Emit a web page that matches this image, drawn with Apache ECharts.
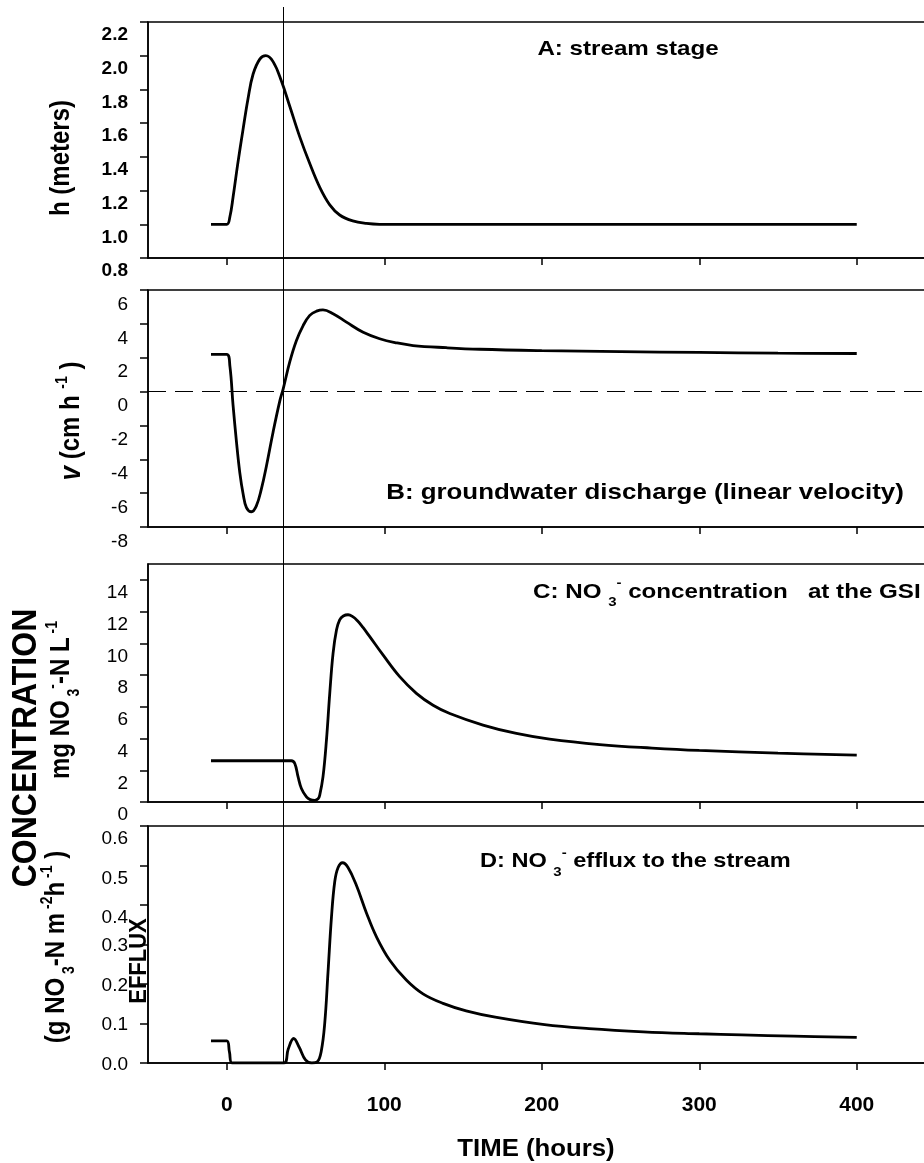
<!DOCTYPE html>
<html><head><meta charset="utf-8">
<script src="https://cdn.jsdelivr.net/npm/echarts@6/dist/echarts.min.js"></script>
<style>html,body{margin:0;padding:0;background:#fff}#c{width:924px;height:1163px}</style>
</head><body><div id="c"></div>
<script>
// ---------------- data ----------------
const markerHour = 36;
const xTickValues = [0, 100, 200, 300, 400];

const stageTicks = [0.8, 1.0, 1.2, 1.4, 1.6, 1.8, 2.0, 2.2];
const velTicks = [-8, -6, -4, -2, 0, 2, 4, 6];
const concTicks = [0, 2, 4, 6, 8, 10, 12, 14];
const effluxTicks = [0, 0.1, 0.2, 0.3, 0.4, 0.5, 0.6];
const effluxLowLabels = [0, 0.1, 0.2, 0.3];
const effluxHighLabels = [0.4, 0.5, 0.6];

const hoursA = [-10, 0, 2, 4, 7, 10.3, 13.5, 16.7, 21, 24.8, 29.4, 34.7, 40, 46.3, 52.7, 59, 65.4, 71.7, 80, 88.7, 97, 150, 250, 400];
const stage  = [1.0, 1.0, 1.045, 1.16, 1.36, 1.56, 1.745, 1.89, 1.98, 2.0, 1.965, 1.85, 1.70, 1.52, 1.36, 1.22, 1.115, 1.055, 1.02, 1.005, 1.0, 1.0, 1.0, 1.0];

const hoursB = [-10, 0, 2, 4, 6.2, 8.3, 10.4, 12.5, 15.7, 18.8, 22, 25.2, 29.4, 33.7, 35.8, 40, 44.2, 48.5, 52.7, 57, 61.1, 67.5, 76, 86.6, 97.1, 107.7, 118.3, 139.5, 160.6, 200, 250, 300, 350, 400];
const velocity = [2.2, 2.2, 1.5, -0.8, -3.0, -4.8, -6.05, -6.85, -7.1, -6.75, -5.75, -4.4, -2.4, -0.55, 0.15, 1.75, 3.0, 3.9, 4.5, 4.75, 4.83, 4.6, 4.1, 3.5, 3.12, 2.88, 2.72, 2.59, 2.5, 2.42, 2.36, 2.31, 2.27, 2.25];

const hoursC = [-10, 41, 43.2, 45.3, 47.4, 50.6, 53, 55.9, 58, 59, 61.1, 63.3, 65.4, 67.5, 69.7, 71.7, 74, 77, 80, 83, 86.5, 90.8, 99.2, 109.8, 120.4, 131, 141.6, 162.7, 183.9, 205, 236.8, 270, 300, 350, 400];
const concentration = [2.6, 2.6, 2.43, 1.58, 0.85, 0.32, 0.15, 0.1, 0.2, 0.42, 1.58, 3.9, 6.85, 9.37, 10.85, 11.48, 11.72, 11.8, 11.68, 11.42, 11.0, 10.42, 9.27, 7.9, 6.85, 6.1, 5.58, 4.85, 4.32, 3.96, 3.62, 3.4, 3.25, 3.08, 2.95];

const hoursD = [-10, 0, 1.7, 3.4, 36.2, 39, 42.5, 46, 50, 54, 57.5, 60, 62.2, 64.3, 66.5, 68.6, 70.7, 73.5, 77, 82.3, 88.7, 95, 103.5, 114, 124.6, 137.3, 152, 170.5, 201.8, 230, 264.5, 300, 327, 360, 400];
const efflux = [0.056, 0.056, 0.028, 0, 0, 0.035, 0.062, 0.04, 0.008, 0, 0.003, 0.03, 0.1, 0.23, 0.37, 0.46, 0.495, 0.507, 0.495, 0.45, 0.38, 0.32, 0.26, 0.21, 0.175, 0.151, 0.132, 0.116, 0.097, 0.087, 0.079, 0.074, 0.071, 0.068, 0.065];

// ---------------- chart ----------------
const FF = '"Liberation Sans", Arial, Helvetica, sans-serif';
const chart = echarts.init(document.getElementById('c'), null, {renderer: 'canvas'});

const gridBox = [
  {top: 22, height: 236},
  {top: 290, height: 237},
  {top: 564, height: 238},
  {top: 826, height: 237}
];

const grids = gridBox.map(g => ({
  left: 148, width: 787.5, top: g.top, height: g.height,
  show: true, borderColor: '#000', borderWidth: 1.5, backgroundColor: 'transparent',
  containLabel: false, outerBoundsMode: 'none'
}));

const xAxes = gridBox.map((g, i) => ({
  gridIndex: i, type: 'value', min: -50, max: 450,
  axisLine: {show: true, onZero: false, lineStyle: {color: '#000', width: 1.5}},
  axisTick: {show: true, inside: false, length: 7, customValues: xTickValues, lineStyle: {color: '#000', width: 1.5}},
  axisLabel: {show: i === 3, customValues: xTickValues, margin: 32, color: '#000',
              fontFamily: FF, fontWeight: 'bold', fontSize: 21},
  splitLine: {show: false}
}));

function yAxis(gi, min, max, ticks, labels, opts) {
  return {
    gridIndex: gi, type: 'value', min: min, max: max, position: 'left',
    axisLine: {show: opts.line !== false, onZero: false, lineStyle: {color: '#000', width: 1.5}},
    axisTick: {show: opts.line !== false, inside: false, length: 8, customValues: ticks,
               lineStyle: {color: '#000', width: 1.5}},
    axisLabel: {show: true, customValues: labels, margin: 20, color: '#000',
                formatter: v => '{p|' + opts.fmt(v) + '}',
                rich: {p: {fontFamily: FF, fontWeight: opts.bold ? 'bold' : 'normal', fontSize: 19,
                           color: '#000', padding: [opts.shift * 2, 0, 0, 0]}}},
    splitLine: {show: false}
  };
}
const f1 = v => Number(v).toFixed(1);
const f0 = v => String(Math.round(v));

const yAxes = [
  yAxis(0, 0.8, 2.2, stageTicks, stageTicks, {bold: true, shift: 13, fmt: f1}),
  yAxis(1, -8, 6, velTicks, velTicks, {bold: false, shift: 14.5, fmt: f0}),
  yAxis(2, 0, 15, concTicks, concTicks, {bold: false, shift: 13, fmt: f0}),
  yAxis(3, 0, 0.6, effluxTicks, effluxLowLabels, {bold: false, shift: 1.5, fmt: f1}),
  yAxis(3, 0, 0.6, effluxTicks, effluxHighLabels, {bold: false, shift: 13, fmt: f1, line: false})
];

function lineSeries(i, hours, vals, extra) {
  return Object.assign({
    type: 'line', xAxisIndex: i, yAxisIndex: i,
    data: hours.map((t, k) => [t, vals[k]]),
    showSymbol: false, symbol: 'none', smooth: 0.4, silent: true,
    lineStyle: {color: '#000', width: 2.8}, z: 5
  }, extra || {});
}

const option = {
  animation: false,
  backgroundColor: '#fff',
  grid: grids,
  xAxis: xAxes,
  yAxis: yAxes,
  series: [
    lineSeries(0, hoursA, stage),
    lineSeries(1, hoursB, velocity, {
      markLine: {silent: true, symbol: 'none', label: {show: false}, animation: false,
                 lineStyle: {color: '#000', width: 1.2, type: [18, 9]},
                 data: [{yAxis: 0}]}
    }),
    lineSeries(2, hoursC, concentration),
    lineSeries(3, hoursD, efflux)
  ]
};
chart.setOption(option);

// ---------------- text & marker line ----------------
const vx = Math.round(chart.convertToPixel({xAxisIndex: 0}, markerHour)) + 0.5;
const yBottom = chart.convertToPixel({yAxisIndex: 3}, 0);

function rot(x, y, text, rich, font) {
  return {type: 'text', x: x, y: y, rotation: Math.PI / 2, scaleY: 1.12, z: 20,
          style: Object.assign({text: text, align: 'center', verticalAlign: 'middle', fill: '#000',
                  fontFamily: FF, fontWeight: 'bold', fontSize: 24}, font || {}, rich ? {rich: rich} : {})};
}
function tok(size, extra) {
  return Object.assign({fontFamily: FF, fontWeight: 'bold', fontSize: size, fill: '#000'}, extra || {});
}

const elements = [
  {type: 'line', z: 15, shape: {x1: vx, y1: 7, x2: vx, y2: yBottom},
   style: {stroke: '#000', lineWidth: 1}},
  // panel titles
  {type: 'text', x: 628, y: 49, scaleX: 1.15, z: 20,
   style: {text: 'A: stream stage', align: 'center', verticalAlign: 'middle', fill: '#000',
           fontFamily: FF, fontWeight: 'bold', fontSize: 21}},
  {type: 'text', x: 645, y: 493, scaleX: 1.15, z: 20,
   style: {text: 'B: groundwater discharge (linear velocity)', align: 'center', verticalAlign: 'middle',
           fill: '#000', fontFamily: FF, fontWeight: 'bold', fontSize: 22.5}},
  {type: 'text', x: 533, y: 592, scaleX: 1.15, z: 20,
   style: {text: '{b|C: NO }{sub|3}{sup|-}{b| concentration   at the GSI}', align: 'left', verticalAlign: 'middle',
           fill: '#000', fontFamily: FF, fontWeight: 'bold', fontSize: 21,
           rich: {b: tok(21), sub: tok(13, {padding: [20, 0, 0, 0]}), sup: tok(13, {padding: [0, 0, 18, 0]})}}},
  {type: 'text', x: 480, y: 861, scaleX: 1.15, z: 20,
   style: {text: '{b|D: NO }{sub|3}{sup|-}{b| efflux to the stream}', align: 'left', verticalAlign: 'middle',
           fill: '#000', fontFamily: FF, fontWeight: 'bold', fontSize: 20.5,
           rich: {b: tok(20.5), sub: tok(13, {padding: [22, 0, 0, 0]}), sup: tok(13, {padding: [0, 0, 16, 0]})}}},
  // y titles
  rot(62, 158, 'h (meters)'),
  rot(72, 421, '{i|v}{b| (cm h }{s|-1}{b| )}', {
    i: tok(26, {fontStyle: 'italic'}), b: tok(24), s: tok(14, {padding: [0, 0, 16, 0]})}),
  rot(26, 748, 'CONCENTRATION', null, {fontSize: 32}),
  rot(62, 700, '{b|mg NO}{sub| 3}{sup|-}{b|-N L}{sup| -1}', {
    b: tok(24), sub: tok(14, {padding: [22, 0, 0, 0]}), sup: tok(14, {padding: [0, 0, 16, 0]})}),
  rot(57, 947, '{b|(g NO}{sub| 3}{b|-N m}{sup| -2}{b|h}{sup| -1}{b| )}', {
    b: tok(24), sub: tok(14, {padding: [22, 0, 0, 0]}), sup: tok(14, {padding: [0, 0, 16, 0]})}),
  rot(139, 961, 'EFFLUX', null, {fontSize: 22}),
  // x title
  {type: 'text', x: 536, y: 1150, scaleX: 1.12, z: 20,
   style: {text: 'TIME (hours)', align: 'center', verticalAlign: 'middle', fill: '#000',
           fontFamily: FF, fontWeight: 'bold', fontSize: 23}}
];
chart.setOption({graphic: {elements: elements}});
</script>
</body></html>
